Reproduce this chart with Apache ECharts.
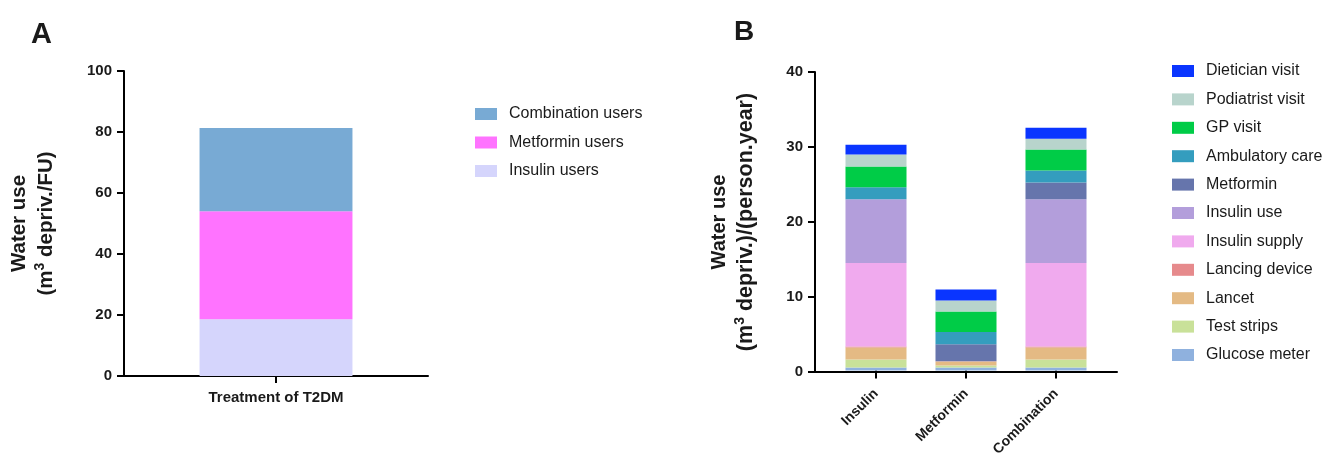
<!DOCTYPE html>
<html>
<head>
<meta charset="utf-8">
<script src="https://cdn.jsdelivr.net/npm/echarts@6/dist/echarts.min.js"></script>
<style>
html,body{margin:0;padding:0;background:#fff;}
#c{width:1326px;height:459px;}
</style>
</head>
<body>
<div id="c"></div>
<script>
// Panel A data
const catA = ['Treatment of T2DM'];
const insulinUsers = [18.6];
const metforminUsers = [35.4];
const combinationUsers = [27.3];

// Panel B data
const catB = ['Insulin', 'Metformin', 'Combination'];
const glucoseMeter   = [0.4, 0.4, 0.4];
const testStrips     = [1.07, 0.27, 1.07];
const lancet         = [1.6, 0.53, 1.6];
const lancingDevice  = [0.13, 0.03, 0.13];
const insulinSupply  = [11.2, 0, 11.2];
const insulinUse     = [8.53, 0, 8.53];
const metformin      = [0, 2.27, 2.27];
const ambulatoryCare = [1.62, 1.64, 1.6];
const gpVisit        = [2.78, 2.76, 2.8];
const podiatrist     = [1.6, 1.47, 1.47];
const dietician      = [1.33, 1.47, 1.47];

const yTicksA = {min: 0, max: 100, interval: 20};
const yTicksB = {min: 0, max: 40, interval: 10};

const FONT = '"Liberation Sans", Arial, sans-serif';
const INK = '#1a1a1a';

const seriesB = [
  ['Glucose meter', glucoseMeter, '#8FB1DE'],
  ['Test strips', testStrips, '#C9E199'],
  ['Lancet', lancet, '#E4BA84'],
  ['Lancing device', lancingDevice, '#E68A8C'],
  ['Insulin supply', insulinSupply, '#F0AAEE'],
  ['Insulin use', insulinUse, '#B39EDB'],
  ['Metformin', metformin, '#6675AC'],
  ['Ambulatory care', ambulatoryCare, '#349DBE'],
  ['GP visit', gpVisit, '#00CC47'],
  ['Podiatrist visit', podiatrist, '#B8D4CC'],
  ['Dietician visit', dietician, '#0A35FF']
];
const seriesA = [
  ['Insulin users', insulinUsers, '#D5D5FC'],
  ['Metformin users', metforminUsers, '#FF73FF'],
  ['Combination users', combinationUsers, '#78AAD4']
];

const axisLine = {show: true, lineStyle: {color: '#000', width: 2}};
const axisTick = {show: true, length: 7, lineStyle: {color: '#000', width: 2}};
const tickLabel = {color: INK, fontFamily: FONT, fontWeight: 'bold', fontSize: 15, margin: 12};
function nameStyle(s1, s2) {
  const base = {color: INK, fontFamily: FONT, fontWeight: 'bold'};
  return Object.assign({}, base, {fontSize: s1, lineHeight: 27, rich: {
    a: Object.assign({}, base, {fontSize: s1, lineHeight: 27}),
    b: Object.assign({}, base, {fontSize: s2, lineHeight: 27}),
    sup: Object.assign({}, base, {fontSize: 14, lineHeight: 16, verticalAlign: 'top'})
  }});
}

const chart = echarts.init(document.getElementById('c'));
chart.setOption({
  animation: false,
  backgroundColor: '#fff',
  title: [
    {text: 'A', left: 26, top: 15, textStyle: {fontFamily: FONT, fontWeight: 'bold', fontSize: 29, color: INK}},
    {text: 'B', left: 729, top: 13, textStyle: {fontFamily: FONT, fontWeight: 'bold', fontSize: 28, color: INK}}
  ],
  grid: [
    {left: 124, top: 71, width: 304, height: 305},
    {left: 815, top: 72, width: 302, height: 300},
    {left: 831, top: 72, width: 270, height: 300}
  ],
  xAxis: [
    {gridIndex: 0, type: 'category', data: catA, axisLine: axisLine, axisTick: {show: true, length: 7, alignWithLabel: true, lineStyle: {color: '#000', width: 2}},
     axisLabel: {color: INK, fontFamily: FONT, fontWeight: 'bold', fontSize: 15, margin: 14}},
    {gridIndex: 1, type: 'value', min: 0, max: 1, axisLine: axisLine, axisTick: {show: false}, axisLabel: {show: false}, splitLine: {show: false}},
    {gridIndex: 2, type: 'category', data: catB, axisLine: {show: false}, axisTick: {show: true, length: 8, alignWithLabel: true, lineStyle: {color: '#000', width: 2}},
     axisLabel: {color: INK, fontFamily: FONT, fontWeight: 'bold', fontSize: 14, rotate: 45, margin: 21, interval: 0}}
  ],
  yAxis: [
    {gridIndex: 0, type: 'value', min: yTicksA.min, max: yTicksA.max, interval: yTicksA.interval,
     axisLine: axisLine, axisTick: axisTick, axisLabel: tickLabel, splitLine: {show: false},
     name: '{a|Water use}\n{b|(m}{sup|3}{b| depriv./FU)}', nameLocation: 'middle', nameRotate: 90, nameGap: 64, nameTextStyle: nameStyle(20.5, 20.5)},
    {gridIndex: 1, type: 'value', min: yTicksB.min, max: yTicksB.max, interval: yTicksB.interval,
     axisLine: axisLine, axisTick: axisTick, axisLabel: tickLabel, splitLine: {show: false},
     name: '{a|Water use}\n{b|(m}{sup|3}{b| depriv.)/(person.year)}', nameLocation: 'middle', nameRotate: 90, nameGap: 55, nameTextStyle: nameStyle(20, 21.5)},
    {gridIndex: 2, type: 'value', min: yTicksB.min, max: yTicksB.max, show: false, splitLine: {show: false}}
  ],
  legend: [
    {left: 475, top: 106, padding: 0, orient: 'vertical', itemWidth: 22, itemHeight: 12, itemGap: 12.5, icon: 'rect',
     data: ['Combination users', 'Metformin users', 'Insulin users'],
     textStyle: {fontFamily: FONT, fontSize: 16, color: INK, lineHeight: 16, padding: [0, 0, 0, 7]}},
    {left: 1172, top: 63, padding: 0, orient: 'vertical', itemWidth: 22, itemHeight: 12, itemGap: 12.4, icon: 'rect',
     data: ['Dietician visit', 'Podiatrist visit', 'GP visit', 'Ambulatory care', 'Metformin', 'Insulin use', 'Insulin supply', 'Lancing device', 'Lancet', 'Test strips', 'Glucose meter'],
     textStyle: {fontFamily: FONT, fontSize: 16, color: INK, lineHeight: 16, padding: [0, 0, 0, 7]}}
  ],
  series: [
    ...seriesA.map(([name, data, color]) => ({
      name, type: 'bar', stack: 'A', data, xAxisIndex: 0, yAxisIndex: 0, barWidth: '50.3%',
      itemStyle: {color}, emphasis: {disabled: true}
    })),
    ...seriesB.map(([name, data, color]) => ({
      name, type: 'bar', stack: 'B', data, xAxisIndex: 2, yAxisIndex: 2, barWidth: '67.8%',
      itemStyle: {color}, emphasis: {disabled: true}
    }))
  ]
});
</script>
</body>
</html>
